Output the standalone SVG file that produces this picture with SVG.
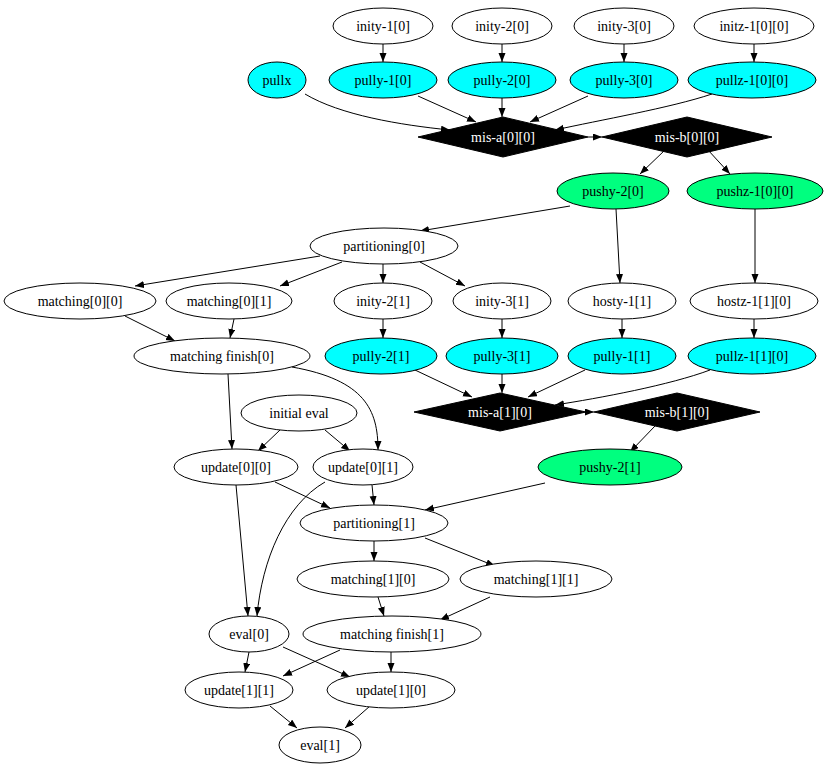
<svg xmlns="http://www.w3.org/2000/svg" width="830" height="773" viewBox="0 0 830 773">
<style>
text{font-family:"Liberation Serif","Times New Roman",serif;font-size:14px;text-anchor:middle;dominant-baseline:central}
ellipse{fill:#fff;stroke:#000;stroke-width:1}
.c ellipse{fill:#00ffff}
.g ellipse{fill:#00ff7f}
.d polygon{fill:#000;stroke:#000}
.d text{fill:#fff}
#edges path{fill:none;stroke:#000;stroke-width:1;marker-end:url(#a)}
</style>
<defs><marker id="a" markerUnits="userSpaceOnUse" markerWidth="10" markerHeight="8" refX="9" refY="3.5" orient="auto"><path d="M0,0L9,3.5L0,7z" fill="#000"/></marker></defs>
<rect width="830" height="773" fill="#fff"/>
<g id="edges">
<path d="M383,44V62"/><path d="M502,44V62"/><path d="M624,44V62"/><path d="M754,44V62"/>
<path d="M305,94C340,115 400,125 450,130"/>
<path d="M418,96L476,122"/><path d="M502,98V117"/><path d="M588,96L530,122"/>
<path d="M712,94C670,108 600,120 555,130"/>
<path d="M588,137H602"/>
<path d="M665,150L640,174"/><path d="M708,150L730,174"/>
<path d="M570,206L420,231"/><path d="M616,209L620,283"/><path d="M755,209V283"/>
<path d="M320,256L135,286"/><path d="M342,262L280,286"/><path d="M383,264V283"/><path d="M420,262L465,286"/>
<path d="M125,316L175,341"/><path d="M234,319L230,338"/>
<path d="M383,319V338"/><path d="M502,319V338"/><path d="M622,319V338"/><path d="M754,319V338"/>
<path d="M415,370L472,397"/><path d="M502,374V393"/><path d="M585,370L528,397"/>
<path d="M710,370C670,385 600,398 555,405"/>
<path d="M587,412H594"/>
<path d="M655,426L630,452"/>
<path d="M228,374L232,449"/>
<path d="M292,367C365,380 378,410 378,450"/>
<path d="M280,430L258,451"/><path d="M325,430L350,451"/>
<path d="M275,482L330,508"/><path d="M372,485L374,505"/><path d="M545,483L425,510"/>
<path d="M236,485L248,616"/>
<path d="M325,482C285,505 262,560 257,616"/>
<path d="M374,541V561"/><path d="M425,538L495,566"/>
<path d="M378,597L384,616"/><path d="M490,597L440,620"/>
<path d="M249,652L245,672"/><path d="M283,647L350,677"/>
<path d="M340,650L283,676"/><path d="M391,652V672"/>
<path d="M270,706L297,728"/><path d="M370,706L345,728"/>
</g>
<g id="inity-1_0"><ellipse cx="383" cy="26" rx="50" ry="18"/><text x="383" y="26">inity-1[0]</text></g>
<g id="inity-2_0"><ellipse cx="502" cy="26" rx="50" ry="18"/><text x="502" y="26">inity-2[0]</text></g>
<g id="inity-3_0"><ellipse cx="624" cy="26" rx="50" ry="18"/><text x="624" y="26">inity-3[0]</text></g>
<g id="initz-1_0_0"><ellipse cx="754" cy="26" rx="60" ry="18"/><text x="754" y="26">initz-1[0][0]</text></g>
<g id="pullx" class="c"><ellipse cx="277" cy="80" rx="29" ry="18"/><text x="277" y="80">pullx</text></g>
<g id="pully-1_0" class="c"><ellipse cx="383" cy="80" rx="54" ry="18"/><text x="383" y="80">pully-1[0]</text></g>
<g id="pully-2_0" class="c"><ellipse cx="502" cy="80" rx="54" ry="18"/><text x="502" y="80">pully-2[0]</text></g>
<g id="pully-3_0" class="c"><ellipse cx="624" cy="80" rx="54" ry="18"/><text x="624" y="80">pully-3[0]</text></g>
<g id="pullz-1_0_0" class="c"><ellipse cx="752" cy="80" rx="64" ry="18"/><text x="752" y="80">pullz-1[0][0]</text></g>
<g id="mis-a_0_0" class="d"><polygon points="503,117 588,137 503,157 418,137"/><text x="503" y="137">mis-a[0][0]</text></g>
<g id="mis-b_0_0" class="d"><polygon points="687,117 772,137 687,157 602,137"/><text x="687" y="137">mis-b[0][0]</text></g>
<g id="pushy-2_0" class="g"><ellipse cx="613" cy="191" rx="56" ry="18"/><text x="613" y="191">pushy-2[0]</text></g>
<g id="pushz-1_0_0" class="g"><ellipse cx="755" cy="191" rx="68" ry="18"/><text x="755" y="191">pushz-1[0][0]</text></g>
<g id="partitioning_0"><ellipse cx="384" cy="246" rx="74" ry="18"/><text x="384" y="246">partitioning[0]</text></g>
<g id="matching_0_0"><ellipse cx="80" cy="301" rx="76" ry="18"/><text x="80" y="301">matching[0][0]</text></g>
<g id="matching_0_1"><ellipse cx="229" cy="301" rx="63" ry="18"/><text x="229" y="301">matching[0][1]</text></g>
<g id="inity-2_1"><ellipse cx="383" cy="301" rx="49" ry="18"/><text x="383" y="301">inity-2[1]</text></g>
<g id="inity-3_1"><ellipse cx="502" cy="301" rx="49" ry="18"/><text x="502" y="301">inity-3[1]</text></g>
<g id="hosty-1_1"><ellipse cx="622" cy="301" rx="54" ry="18"/><text x="622" y="301">hosty-1[1]</text></g>
<g id="hostz-1_1_0"><ellipse cx="754" cy="301" rx="64" ry="18"/><text x="754" y="301">hostz-1[1][0]</text></g>
<g id="matching_finish_0"><ellipse cx="222" cy="356" rx="88" ry="18"/><text x="222" y="356">matching finish[0]</text></g>
<g id="pully-2_1" class="c"><ellipse cx="381" cy="356" rx="56" ry="18"/><text x="381" y="356">pully-2[1]</text></g>
<g id="pully-3_1" class="c"><ellipse cx="502" cy="356" rx="56" ry="18"/><text x="502" y="356">pully-3[1]</text></g>
<g id="pully-1_1" class="c"><ellipse cx="622" cy="356" rx="54" ry="18"/><text x="622" y="356">pully-1[1]</text></g>
<g id="pullz-1_1_0" class="c"><ellipse cx="752" cy="356" rx="64" ry="18"/><text x="752" y="356">pullz-1[1][0]</text></g>
<g id="initial_eval"><ellipse cx="299" cy="413" rx="58" ry="18"/><text x="299" y="413">initial eval</text></g>
<g id="mis-a_1_0" class="d"><polygon points="500,393 586,412 500,431 414,412"/><text x="500" y="412">mis-a[1][0]</text></g>
<g id="mis-b_1_0" class="d"><polygon points="677,393 760,412 677,431 594,412"/><text x="677" y="412">mis-b[1][0]</text></g>
<g id="update_0_0"><ellipse cx="236" cy="467" rx="62" ry="18"/><text x="236" y="467">update[0][0]</text></g>
<g id="update_0_1"><ellipse cx="363" cy="467" rx="50" ry="18"/><text x="363" y="467">update[0][1]</text></g>
<g id="pushy-2_1" class="g"><ellipse cx="610" cy="467" rx="72" ry="18"/><text x="610" y="467">pushy-2[1]</text></g>
<g id="partitioning_1"><ellipse cx="374" cy="523" rx="74" ry="18"/><text x="374" y="523">partitioning[1]</text></g>
<g id="matching_1_0"><ellipse cx="373" cy="579" rx="76" ry="18"/><text x="373" y="579">matching[1][0]</text></g>
<g id="matching_1_1"><ellipse cx="536" cy="579" rx="76" ry="18"/><text x="536" y="579">matching[1][1]</text></g>
<g id="eval_0"><ellipse cx="249" cy="634" rx="40" ry="18"/><text x="249" y="634">eval[0]</text></g>
<g id="matching_finish_1"><ellipse cx="392" cy="634" rx="89" ry="18"/><text x="392" y="634">matching finish[1]</text></g>
<g id="update_1_1"><ellipse cx="239" cy="690" rx="54" ry="18"/><text x="239" y="690">update[1][1]</text></g>
<g id="update_1_0"><ellipse cx="391" cy="690" rx="64" ry="18"/><text x="391" y="690">update[1][0]</text></g>
<g id="eval_1"><ellipse cx="320" cy="745" rx="41" ry="18"/><text x="320" y="745">eval[1]</text></g>
</svg>
